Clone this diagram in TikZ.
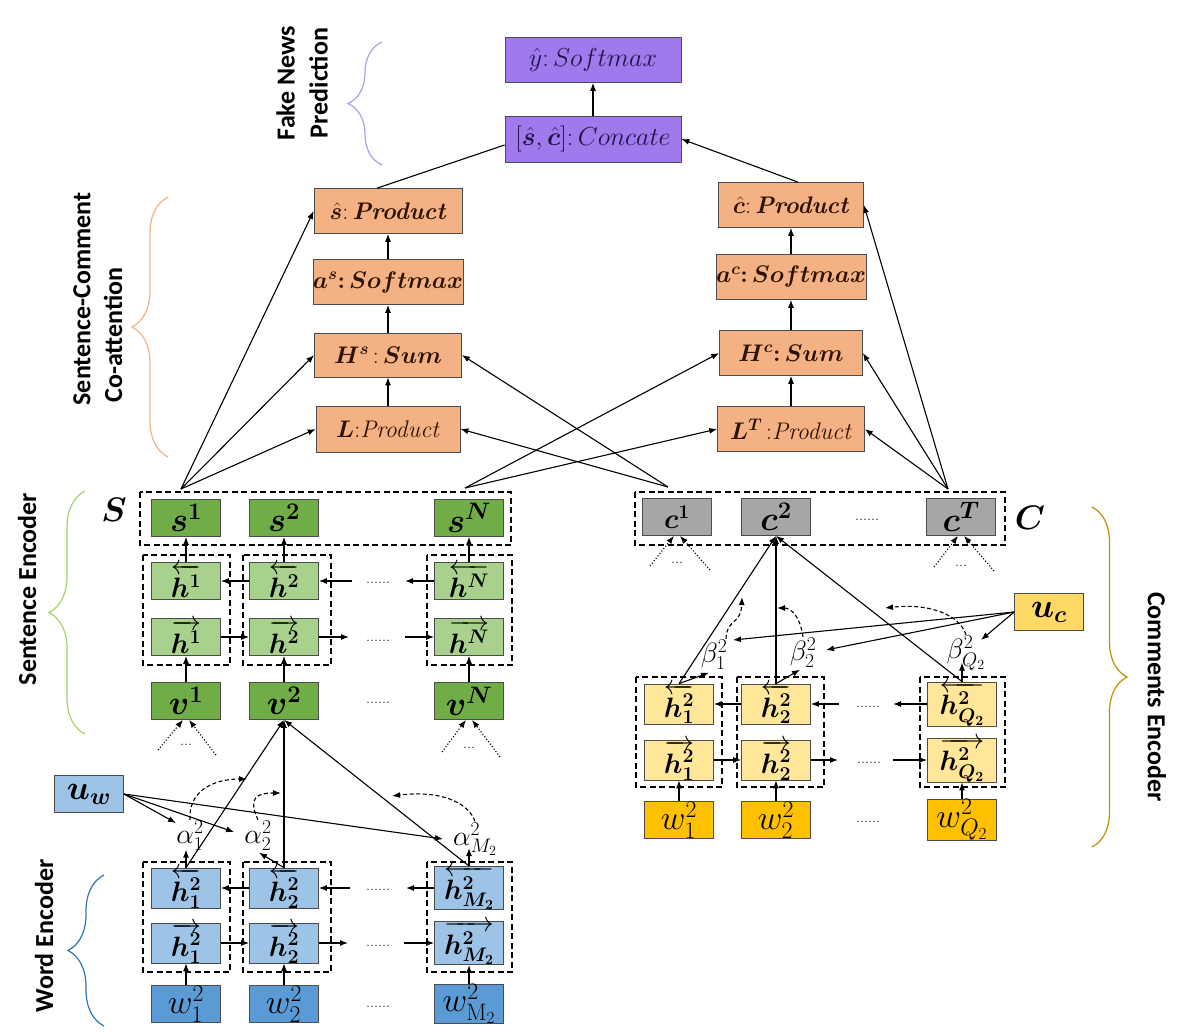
\RequirePackage{fix-cm}
\documentclass[tikz,border=0pt]{standalone}
\usepackage{amsmath}
\usepackage{bm}
\usepackage{fontspec}
\setsansfont{Carlito}
\usetikzlibrary{arrows.meta,decorations.pathreplacing}

\definecolor{violetfill}{RGB}{160,122,236}
\definecolor{navytext}{RGB}{30,20,70}
\definecolor{orangefill}{RGB}{244,177,131}
\definecolor{browntext}{RGB}{45,18,0}
\definecolor{greendark}{RGB}{112,173,71}
\definecolor{greenlight}{RGB}{169,209,142}
\definecolor{greyfill}{RGB}{166,166,166}
\definecolor{bluelight}{RGB}{157,195,230}
\definecolor{bluedark}{RGB}{91,155,213}
\definecolor{yellowmid}{RGB}{255,217,102}
\definecolor{yellowlight}{RGB}{255,230,153}
\definecolor{golddark}{RGB}{255,192,0}
\definecolor{bracepurple}{RGB}{170,160,235}
\definecolor{braceorange}{RGB}{244,177,131}
\definecolor{bracegreen}{RGB}{165,210,110}
\definecolor{braceblue}{RGB}{46,117,182}
\definecolor{braceolive}{RGB}{191,144,0}

\newcommand{\boxfont}{\fontsize{24}{28}\selectfont}
\newcommand{\topfont}{\fontsize{26}{30}\selectfont}
\newcommand{\cellfont}{\fontsize{28}{32}\selectfont}
\newcommand{\wordfont}{\fontsize{34}{38}\selectfont}
\newcommand{\bigcellfont}{\fontsize{34}{38}\selectfont}
\newcommand{\lblfont}{\sffamily\bfseries\fontsize{26}{33}\selectfont}
\newcommand{\wtfont}{\fontsize{28}{32}\selectfont}
\newcommand{\dotfont}{\fontsize{16}{18}\selectfont}

\tikzset{
  box/.style={draw=black!70, line width=0.7pt, inner sep=0pt,
    minimum width=69pt, minimum height=37pt, font=\cellfont},
  pbox/.style={box, fill=violetfill, text=navytext, minimum width=176pt,
    minimum height=45pt, font=\topfont},
  obox/.style={box, fill=orangefill, text=browntext, minimum height=45pt,
    font=\boxfont},
  gdark/.style={box, fill=greendark, font=\bigcellfont},
  glight/.style={box, fill=greenlight},
  bdark/.style={box, fill=bluedark, font=\wordfont},
  blight/.style={box, fill=bluelight},
  ymid/.style={box, fill=yellowmid, font=\bigcellfont},
  ylight/.style={box, fill=yellowlight},
  ydark/.style={box, fill=golddark, font=\wordfont},
  grey/.style={box, fill=greyfill, font=\bigcellfont},
  dbox/.style={draw, line width=1.2pt, dash pattern=on 6pt off 3.5pt},
  arr/.style={-{Latex[length=8pt,width=6pt]}, line width=1.1pt},
  darr/.style={arr, dash pattern=on 4pt off 2.5pt},
  dotarr/.style={arr, dotted, line width=1.1pt},
  plain/.style={line width=1.1pt},
  wt/.style={inner sep=1pt, font=\wtfont},
  dots/.style={inner sep=0pt, font=\dotfont},
  ttl/.style={font=\lblfont, align=center},
  brc/.style={decorate, line width=1.2pt},
}

\begin{document}
\begin{tikzpicture}[x=1pt, y=-1pt]
\useasboundingbox (0,0) rectangle (1180,1032);

% prediction and co-attention
\node[pbox] (yhat) at (593,60) {$\hat{y}{:}\,Softmax$};
\node[pbox, minimum height=46pt] (concat) at (593,139) {$[\bm{\hat{s}},\bm{\hat{c}}]{:}\,Concate$};
\node[obox, minimum width=148pt] (shat) at (388,211) {$\bm{\hat{s}}{:}\,$\textbf{\textit{Product}}};
\node[obox, minimum width=147pt] (as) at (388,282) {$\bm{a^s{:}\,Softmax}$};
\node[obox, minimum width=147pt, minimum height=44pt] (Hs) at (388,355) {$\bm{H^s}\,{:}\,\bm{Sum}$};
\node[obox, minimum width=144pt, minimum height=46pt] (L) at (388,429) {$\bm{L}{:}$\textit{Product}};
\node[obox, minimum width=145pt] (chat) at (791,205) {$\bm{\hat{c}}{:}\,$\textbf{\textit{Product}}};
\node[obox, minimum width=144pt] (ac) at (791,277) {$\bm{a^c{:}\,Softmax}$};
\node[obox, minimum width=143pt] (Hc) at (791,353) {$\bm{H^c{:}\,Sum}$};
\node[obox, minimum width=147pt] (LT) at (791,429) {$\bm{L^T}$\,{:}\textit{Product}};

% sentence encoder
\node[gdark] (s1) at (186,518) {$\bm{s^1}$};
\node[gdark] (s2) at (284,518) {$\bm{s^2}$};
\node[gdark] (sN) at (469,518) {$\bm{s^N}$};
\node[glight] (hl1) at (186,581) {$\overleftarrow{\bm{h^1}}$};
\node[glight] (hl2) at (284,581) {$\overleftarrow{\bm{h^2}}$};
\node[glight] (hlN) at (469,581) {$\overleftarrow{\bm{h^N}}$};
\node[glight] (hr1) at (186,637) {$\overrightarrow{\bm{h^1}}$};
\node[glight] (hr2) at (284,637) {$\overrightarrow{\bm{h^2}}$};
\node[glight] (hrN) at (469,637) {$\overrightarrow{\bm{h^N}}$};
\node[gdark] (v1) at (186,701) {$\bm{v^1}$};
\node[gdark] (v2) at (284,701) {$\bm{v^2}$};
\node[gdark] (vN) at (469,701) {$\bm{v^N}$};
\node[font=\bigcellfont] (Slbl) at (114,510) {$\bm{S}$};
\draw[dbox] (140,492) rectangle (511,545);
\draw[dbox] (143,555) rectangle (230,665);
\draw[dbox] (243,555) rectangle (331,665);
\draw[dbox] (427,555) rectangle (512,665);
\node[dots] (sdl) at (378,583) {......};
\node[dots] (sdr) at (378,641) {......};
\node[dots] (sdv) at (378,703) {......};
\coordinate (sLa) at (352,581);
\coordinate (sLb) at (405,581);
\coordinate (sRa) at (349,637);
\coordinate (sRb) at (405,637);
\coordinate (vd1a) at (158,750);
\coordinate (vd1b) at (216,755);
\coordinate (vdNa) at (442,752);
\coordinate (vdNb) at (500,757);
\node[dots] (vd1) at (186,745) {...};
\node[dots] (vdN) at (469,748) {...};

% word encoder
\node[blight, font=\bigcellfont] (uw) at (89,794) {$\bm{u_w}$};
\node[blight] (hw1l) at (186,888) {$\overleftarrow{\bm{h_1^2}}$};
\node[blight] (hw2l) at (284,888) {$\overleftarrow{\bm{h_2^2}}$};
\node[blight] (hwMl) at (469,888) {$\overleftarrow{\bm{h_{M_2}^2}}$};
\node[blight] (hw1r) at (186,943) {$\overrightarrow{\bm{h_1^2}}$};
\node[blight] (hw2r) at (284,943) {$\overrightarrow{\bm{h_2^2}}$};
\node[blight] (hwMr) at (469,943) {$\overrightarrow{\bm{h_{M_2}^2}}$};
\node[bdark] (w1) at (186,1004) {$w_1^2$};
\node[bdark] (w2) at (284,1004) {$w_2^2$};
\node[bdark] (wM) at (469,1004) {$w_{\mathrm{M}_2}^2$};
\draw[dbox] (143,862) rectangle (230,972);
\draw[dbox] (243,862) rectangle (331,972);
\draw[dbox] (427,862) rectangle (512,972);
\node[dots] (wdl) at (378,890) {......};
\node[dots] (wdr) at (378,946) {......};
\node[dots] (wdw) at (378,1007) {......};
\coordinate (wLa) at (350,888);
\coordinate (wLb) at (406,888);
\coordinate (wRa) at (348,943);
\coordinate (wRb) at (404,943);
\node[wt] (al1) at (190,836) {$\alpha_1^2$};
\node[wt] (al2) at (258,836) {$\alpha_2^2$};
\node[wt] (alM) at (475,839) {$\alpha_{M_2}^2$};
\coordinate (ta1) at (176,823);
\coordinate (ta2) at (234,832);
\coordinate (taM) at (443,839);
\coordinate (da1) at (247,779);
\coordinate (da2) at (281,793);
\coordinate (daM) at (392,796);

% comments encoder
\node[grey, font=\cellfont] (c1) at (677,517) {$\bm{c^1}$};
\node[grey] (c2) at (776,517) {$\bm{c^2}$};
\node[grey] (cT) at (961,517) {$\bm{c^T}$};
\node[font=\bigcellfont] (Clbl) at (1030,518) {$\bm{C}$};
\draw[dbox] (635,492) rectangle (1005,545);
\node[dots] (cdc) at (867,520) {......};
\coordinate (cd1a) at (650,566);
\coordinate (cd1b) at (710,570);
\coordinate (cdTa) at (934,567);
\coordinate (cdTb) at (994,571);
\node[dots] (cd1) at (677,563) {...};
\node[dots] (cdT) at (961,566) {...};
\node[ymid] (uc) at (1049,612) {$\bm{u_c}$};
\node[ylight] (hc1l) at (679,704) {$\overleftarrow{\bm{h_1^2}}$};
\node[ylight] (hc2l) at (776,704) {$\overleftarrow{\bm{h_2^2}}$};
\node[ylight] (hcQl) at (962,704) {$\overleftarrow{\bm{h_{Q_2}^2}}$};
\node[ylight] (hc1r) at (679,760) {$\overrightarrow{\bm{h_1^2}}$};
\node[ylight] (hc2r) at (776,760) {$\overrightarrow{\bm{h_2^2}}$};
\node[ylight] (hcQr) at (962,760) {$\overrightarrow{\bm{h_{Q_2}^2}}$};
\node[ydark] (wc1) at (679,820) {$w_1^2$};
\node[ydark] (wc2) at (776,820) {$w_2^2$};
\node[ydark] (wcQ) at (962,820) {$w_{Q_2}^2$};
\draw[dbox] (636,677) rectangle (722,787);
\draw[dbox] (737,677) rectangle (824,787);
\draw[dbox] (920,677) rectangle (1005,787);
\node[dots] (cdl) at (868,707) {......};
\node[dots] (cdr) at (869,763) {......};
\node[dots] (cdw) at (868,822) {......};
\coordinate (cLa) at (839,704);
\coordinate (cLb) at (893,704);
\coordinate (cRa) at (838,760);
\coordinate (cRb) at (893,760);
\node[wt] (b1) at (714,655) {$\beta_1^2$};
\node[wt] (b2) at (803,653) {$\beta_2^2$};
\node[wt] (bQ) at (966,653) {$\beta_{Q_2}^2$};
\coordinate (tb1) at (733,640);
\coordinate (tb2) at (826,650);
\coordinate (tbQ) at (981,640);
\coordinate (db1) at (742,597);
\coordinate (db2) at (777,608);
\coordinate (dbQ) at (885,608);

% meeting points above S and C
\coordinate (pS1) at (181,489);
\coordinate (pSN) at (465,488);
\coordinate (pC1) at (668,487);
\coordinate (pCT) at (948,489);

% connectors
\path[arr] (concat) edge (yhat)
  (L) edge (Hs) (Hs) edge (as) (as) edge (shat)
  (LT) edge (Hc) (Hc) edge (ac) (ac) edge (chat)
  ([xshift=7pt]chat.north) edge (concat.east)
  (pS1) edge (shat.west) edge (Hs.west) edge (L.west)
  (pSN) edge (Hc.west) edge (LT.west)
  (pC1) edge (Hs.east) edge (L.east)
  (pCT) edge (chat.east) edge (Hc.east) edge (LT.east);
\draw[plain] ([xshift=-11pt]shat.north) -- ([yshift=-6pt]concat.west);

\path[arr] (hl1) edge (s1) (hl2) edge (s2) (hlN) edge (sN)
  (v1) edge (hr1) (v2) edge (hr2) (vN) edge (hrN)
  (hl2) edge (hl1) (sLa) edge (hl2) (hlN) edge (sLb)
  (hr1) edge (hr2) (hr2) edge (sRa) (sRb) edge (hrN);
\path[dotarr] (vd1a) edge ([xshift=-3pt]v1.south) (vd1b) edge ([xshift=3pt]v1.south)
  (vdNa) edge ([xshift=-3pt]vN.south) (vdNb) edge ([xshift=3pt]vN.south);

\path[arr] (w1) edge (hw1r) (w2) edge (hw2r) (wM) edge (hwMr)
  (hw2l) edge (hw1l) (wLa) edge (hw2l) (hwMl) edge (wLb)
  (hw1r) edge (hw2r) (hw2r) edge (wRa) (wRb) edge (hwMr)
  (hw1l.north) edge (v2.south) (hw2l.north) edge (v2.south) (hwMl.north) edge (v2.south)
  (uw.east) edge (ta1) edge (ta2) edge (taM);
\draw[arr] (hw1l.north) -- ++(0,-18);
\draw[arr] (hw2l.north) -- ++(-25,-15);
\draw[arr] (hwMl.north) -- ++(0,-18);
\draw[darr] (al1.north) .. controls (188,792) and (212,779) .. (da1);
\draw[darr] (al2.north) .. controls (248,798) and (256,793) .. (da2);
\draw[darr] (alM.north) .. controls (468,802) and (440,790) .. (daM);

\path[arr] (wc1) edge (hc1r) (wc2) edge (hc2r) (wcQ) edge (hcQr)
  (hc2l) edge (hc1l) (cLa) edge (hc2l) (hcQl) edge (cLb)
  (hc1r) edge (hc2r) (hc2r) edge (cRa) (cRb) edge (hcQr)
  (hc1l.north) edge (c2.south) (hc2l.north) edge (c2.south) (hcQl.north) edge (c2.south)
  (uc.west) edge (tb1) edge (tb2) edge (tbQ);
\path[dotarr] (cd1a) edge ([xshift=-3pt]c1.south) (cd1b) edge ([xshift=3pt]c1.south)
  (cdTa) edge ([xshift=-3pt]cT.south) (cdTb) edge ([xshift=3pt]cT.south);
\draw[arr] (hc1l.north) -- ++(30,-11);
\draw[arr] (hc2l.north) -- ++(24,-14);
\draw[arr] (hcQl.north) -- ++(0,-19);
\draw[darr] ([xshift=12pt]b1.north) .. controls (727,618) and (741,625) .. (db1);
\draw[darr] (b2.north) .. controls (800,615) and (790,608) .. (db2);
\draw[darr] (bQ.north) .. controls (960,615) and (930,603) .. (dbQ);

% braces and titles
\draw[brc, draw=bracepurple, decoration={brace, amplitude=34pt}] (382,165) -- (382,42);
\draw[brc, draw=braceorange, decoration={brace, amplitude=36pt}] (168,457) -- (168,197);
\draw[brc, draw=bracegreen, decoration={brace, amplitude=36pt}] (85,734) -- (85,491);
\draw[brc, draw=braceblue, decoration={brace, amplitude=36pt}] (104,1026) -- (104,875);
\draw[brc, draw=braceolive, decoration={brace, amplitude=35pt}] (1092,507) -- (1092,847);
\node[ttl, rotate=90] (tFake) at (302,83) {Fake News\\Prediction};
\node[ttl, rotate=90] (tSCa) at (82,299) {Sentence-Comment};
\node[ttl, rotate=90] (tSCb) at (113,335) {Co-attention};
\node[ttl, rotate=90] (tSE) at (27,589) {Sentence Encoder};
\node[ttl, rotate=90] (tWE) at (44,936) {Word Encoder};
\node[ttl, rotate=-90] (tCE) at (1157,697) {Comments Encoder};
\end{tikzpicture}
\end{document}
